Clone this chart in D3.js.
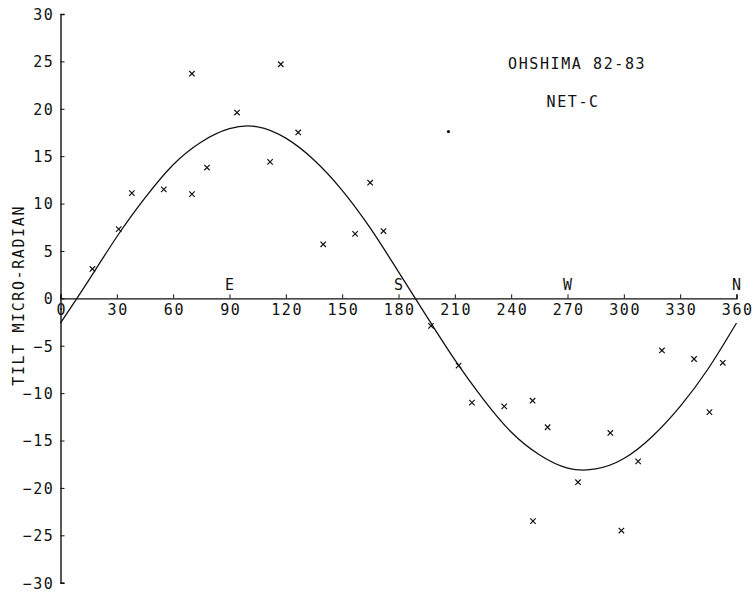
<!DOCTYPE html>
<html>
<head>
<meta charset="utf-8">
<script src="https://cdn.jsdelivr.net/npm/d3@7"></script>
<style>
  body { margin: 0; background: #fff; }
  text { font-family: "DejaVu Sans Mono", monospace; font-size: 15px; letter-spacing: 1.6px; fill: #111; }
</style>
</head>
<body>
<div id="chart"></div>
<script>
// observed tilt (x marks), azimuth in degrees
const azimuth = [17, 31, 38, 55, 70, 70, 78, 94, 111.6, 117.3, 126.6, 139.9, 156.9, 164.9, 172,
    197.3, 212, 219.1, 236.3, 251.4, 251.6, 259.4, 275.6, 292.8, 298.7, 307.6, 320.3, 337.4, 345.6, 352.7];
const tilt = [3.1, 7.3, 11.1, 11.5, 11.0, 23.7, 13.8, 19.6, 14.4, 24.7, 17.5, 5.7, 6.8, 12.2, 7.1,
    -2.9, -7.1, -11.0, -11.4, -10.8, -23.5, -13.6, -19.4, -14.2, -24.5, -17.2, -5.5, -6.4, -12.0, -6.8];

// single dot
const dotAz = [206.6];
const dotTilt = [17.6];

// fitted curve
const curveAz = [0, 15, 30, 45, 60, 75, 90, 105, 120, 135, 150, 165, 180,
    195, 210, 225, 240, 255, 270, 285, 300, 315, 330, 345, 360];
const curveTilt = [-2.6, 1.9, 6.5, 10.6, 14.1, 16.5, 17.9, 18.1, 16.9, 14.6, 11.4, 7.4, 2.8,
    -1.9, -6.5, -10.6, -14.1, -16.5, -17.9, -18.0, -16.9, -14.6, -11.4, -7.4, -2.6];

const xTicks = [0, 30, 60, 90, 120, 150, 180, 210, 240, 270, 300, 330, 360];
const yTicks = [-30, -25, -20, -15, -10, -5, 0, 5, 10, 15, 20, 25, 30];
const compass = ["E", "S", "W", "N"];
const compassAz = [90, 180, 270, 360];

const width = 754, height = 596;

const svg = d3.select("#chart")
    .append("svg")
    .attr("width", width)
    .attr("height", height)
    .style("color", "#111");

const x = d3.scaleLinear().domain([0, 360]).range([60.5, 736.5]);
const y = d3.scaleLinear().domain([-30, 30]).range([582.7, 14]);

// y axis, ticks pointing inward
svg.append("g")
    .attr("transform", `translate(${x(0)},0)`)
    .call(d3.axisLeft(y).tickValues(yTicks).tickSizeInner(-4).tickSizeOuter(-4).tickPadding(6))
    .call(g => g.select(".domain").attr("stroke-width", 1.4))
    .call(g => g.selectAll(".tick text").attr("dy", "0.36em"));

// x axis along zero
svg.append("g")
    .attr("transform", `translate(0,${y(0)})`)
    .call(d3.axisBottom(x).tickValues(xTicks).tickSizeInner(-4).tickSizeOuter(-4).tickPadding(6))
    .call(g => g.select(".domain").attr("stroke-width", 1.4))
    .call(g => g.selectAll(".tick text").attr("dx", "0.8"));

svg.append("g")
    .selectAll("text")
    .data(compass)
    .join("text")
    .attr("x", (d, i) => x(compassAz[i]) + 0.8)
    .attr("y", y(0) - 8)
    .attr("text-anchor", "middle")
    .text(d => d);

svg.append("text")
    .attr("transform", `translate(24,${y(0) - 3}) rotate(-90)`)
    .attr("text-anchor", "middle")
    .text("TILT MICRO-RADIAN");

svg.append("text").attr("x", 508).attr("y", 68.5).text("OHSHIMA 82-83");
svg.append("text").attr("x", 546.5).attr("y", 106.5).text("NET-C");

const line = d3.line()
    .x((d, i) => x(curveAz[i]))
    .y(d => y(d))
    .curve(d3.curveNatural);

svg.append("path")
    .datum(curveTilt)
    .attr("d", line)
    .attr("fill", "none")
    .attr("stroke", "#111")
    .attr("stroke-width", 1.3);

svg.append("g")
    .selectAll("path")
    .data(tilt)
    .join("path")
    .attr("transform", (d, i) => `translate(${x(azimuth[i])},${y(d)})`)
    .attr("d", d3.symbol(d3.symbolX, 21))
    .attr("fill", "none")
    .attr("stroke", "#111")
    .attr("stroke-width", 1.2);

svg.append("g")
    .selectAll("circle")
    .data(dotTilt)
    .join("circle")
    .attr("cx", (d, i) => x(dotAz[i]))
    .attr("cy", d => y(d))
    .attr("r", 1.6)
    .attr("fill", "#111");
</script>
</body>
</html>
